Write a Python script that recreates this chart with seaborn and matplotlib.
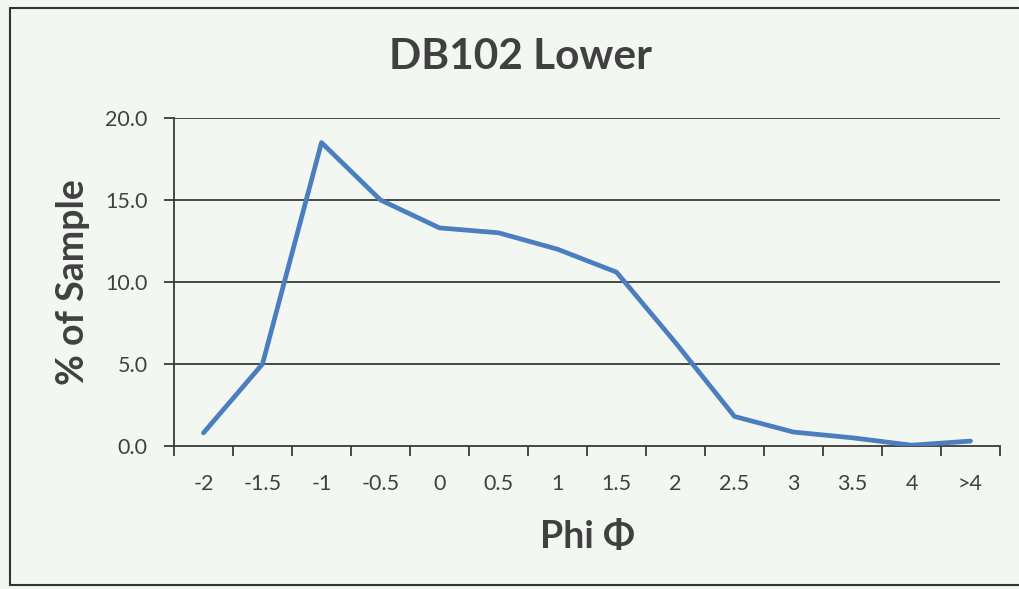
import matplotlib
matplotlib.use("Agg")
import matplotlib.pyplot as plt
import seaborn as sns
import pandas as pd
from matplotlib.ticker import FixedLocator

categories = ["-2", "-1.5", "-1", "-0.5", "0", "0.5", "1", "1.5", "2", "2.5", "3", "3.5", "4", ">4"]
percent_of_sample = [0.8, 5.0, 18.5, 15.0, 13.3, 13.0, 12.0, 10.6, 6.3, 1.8, 0.85, 0.5, 0.05, 0.3]
y_ticks = [0.0, 5.0, 10.0, 15.0, 20.0]
y_tick_labels = ["0.0", "5.0", "10.0", "15.0", "20.0"]

sns.set_theme(style="white")
plt.rcParams["font.family"] = ["Lato", "DejaVu Sans"]

bg = "#f3f7f2"
dark = "#404040"
line_color = "#4a7ebf"
grid_c = "#3a3a3a"

df = pd.DataFrame({"phi": categories, "pct": percent_of_sample})

fig = plt.figure(figsize=(10.2, 5.89), dpi=100, facecolor=bg)
ax = fig.add_axes([174 / 1020, 1 - 446 / 589, (1000 - 174) / 1020, (446 - 118) / 589])
ax.set_facecolor(bg)

for y in y_ticks[1:]:
    ax.axhline(y, color=grid_c, lw=1.3, zorder=1)

sns.lineplot(data=df, x="phi", y="pct", sort=False, color=line_color, lw=3.4, ax=ax, zorder=3)

ax.set_xlim(-0.5, len(categories) - 0.5)
ax.set_ylim(0, 20)
ax.set_yticks(y_ticks)
ax.set_yticklabels(y_tick_labels, fontsize=15.5, color=dark)
ax.set_xticks(range(len(categories)))
ax.set_xticklabels(categories, fontsize=15.5, color=dark)
ax.xaxis.set_minor_locator(FixedLocator([i - 0.5 for i in range(len(categories) + 1)]))
ax.tick_params(axis="x", which="major", length=0, pad=20)
ax.tick_params(axis="x", which="minor", length=7, width=1.3, color=grid_c, direction="out", bottom=True)
ax.tick_params(axis="y", which="major", length=7, width=1.3, color=grid_c, direction="out", pad=12, left=True)

for side in ["top", "right"]:
    ax.spines[side].set_visible(False)
for side in ["left", "bottom"]:
    ax.spines[side].set_color(grid_c)
    ax.spines[side].set_linewidth(1.3)

ax.set_xlabel("Phi Φ", fontsize=27, fontweight="bold", color=dark)
ax.xaxis.set_label_coords(0.5, (446 - 520) / 328)
ax.set_ylabel("% of Sample", fontsize=27, fontweight="bold", color=dark)
ax.yaxis.set_label_coords((90 - 174) / 826, 0.5)
fig.text(521 / 1020, 1 - 57 / 589, "DB102 Lower", fontsize=30.5, fontweight="bold",
         color=dark, ha="center", va="center")

# outer chart border
fig.add_artist(plt.Line2D([10 / 1020, 10 / 1020], [1 - 8 / 589, 1 - 585 / 589], color="#333333", lw=1.5))
fig.add_artist(plt.Line2D([10 / 1020, 1.0], [1 - 8 / 589, 1 - 8 / 589], color="#333333", lw=1.5))
fig.add_artist(plt.Line2D([10 / 1020, 1.0], [1 - 585 / 589, 1 - 585 / 589], color="#333333", lw=1.5))

fig.savefig("out.png", dpi=100, facecolor=bg)
